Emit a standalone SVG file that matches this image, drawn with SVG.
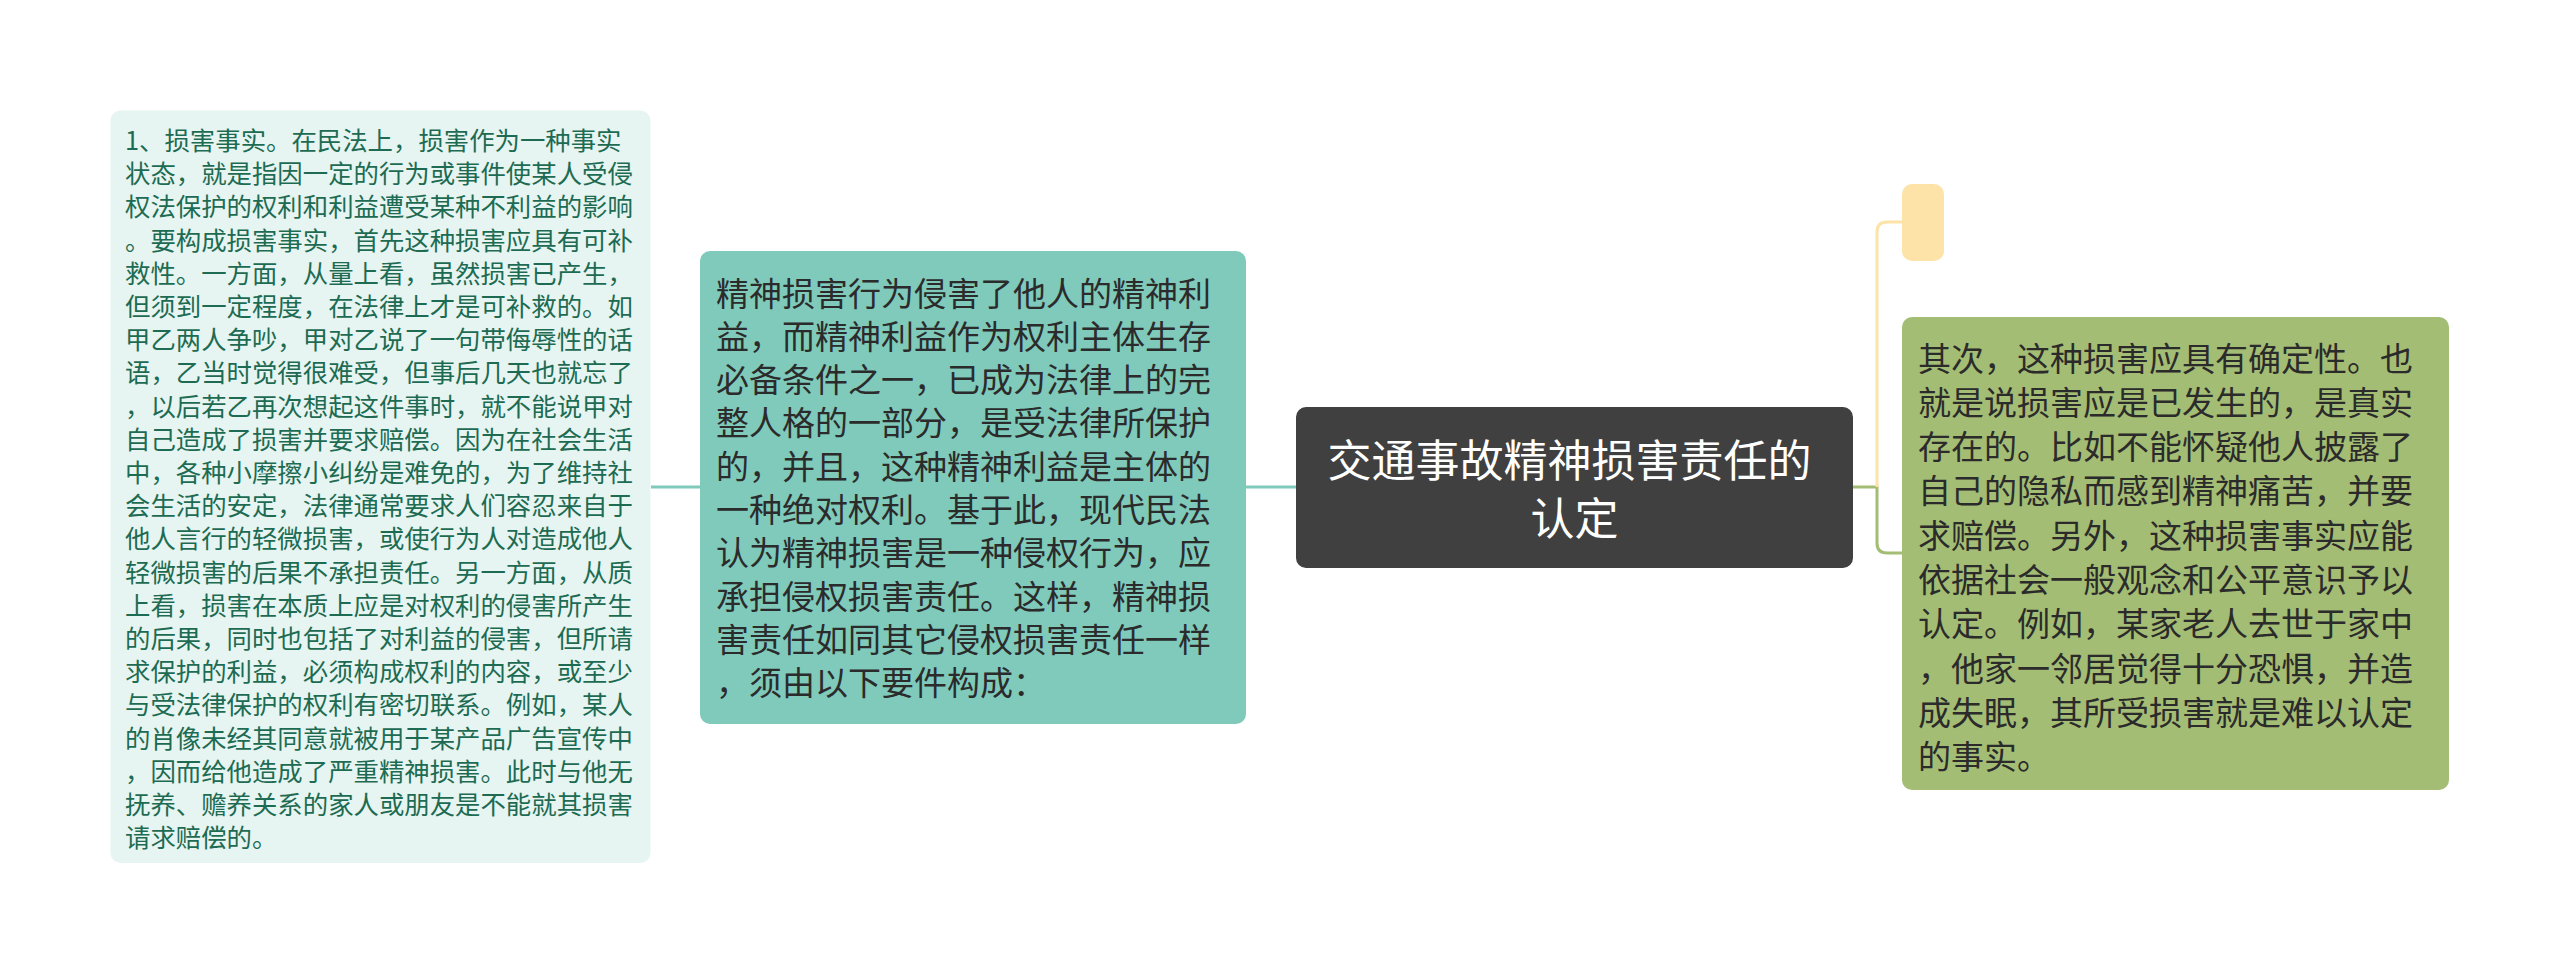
<svg xmlns="http://www.w3.org/2000/svg" width="2560" height="975" viewBox="0 0 2560 975">
<style>
.t{font-family:"Noto Sans CJK SC","Noto Sans",sans-serif;}
.l{font-size:25.4px;fill:#1d6b52;}
.m{font-size:33px;fill:#2b2b2b;}
.c{font-size:44px;fill:#ffffff;}
.conn{fill:none;stroke-width:3;}
</style>
<rect width="2560" height="975" fill="#ffffff"/>
<g id="connectors">
<path class="conn" stroke="#7fcabb" d="M651,487 H700"/>
<path class="conn" stroke="#7fcabb" d="M1246,487 H1296"/>
<path class="conn" stroke="#a4bd74" d="M1853,487 H1877 V543 Q1877,553 1887,553 H1902"/>
<path class="conn" stroke="#fde3a7" d="M1877,487 V232 Q1877,222 1887,222 H1902"/>
</g>
<g id="node-left">
<rect x="110.5" y="110.5" width="540" height="752.5" rx="10" fill="#e6f5f1"/>
<text class="t l" x="125" y="150">
<tspan x="125">1、损害事实。在民法上，损害作为一种事实</tspan>
<tspan x="125" dy="33.2">状态，就是指因一定的行为或事件使某人受侵</tspan>
<tspan x="125" dy="33.2">权法保护的权利和利益遭受某种不利益的影响</tspan>
<tspan x="125" dy="33.2">。要构成损害事实，首先这种损害应具有可补</tspan>
<tspan x="125" dy="33.2">救性。一方面，从量上看，虽然损害已产生，</tspan>
<tspan x="125" dy="33.2">但须到一定程度，在法律上才是可补救的。如</tspan>
<tspan x="125" dy="33.2">甲乙两人争吵，甲对乙说了一句带侮辱性的话</tspan>
<tspan x="125" dy="33.2">语，乙当时觉得很难受，但事后几天也就忘了</tspan>
<tspan x="125" dy="33.2">，以后若乙再次想起这件事时，就不能说甲对</tspan>
<tspan x="125" dy="33.2">自己造成了损害并要求赔偿。因为在社会生活</tspan>
<tspan x="125" dy="33.2">中，各种小摩擦小纠纷是难免的，为了维持社</tspan>
<tspan x="125" dy="33.2">会生活的安定，法律通常要求人们容忍来自于</tspan>
<tspan x="125" dy="33.2">他人言行的轻微损害，或使行为人对造成他人</tspan>
<tspan x="125" dy="33.2">轻微损害的后果不承担责任。另一方面，从质</tspan>
<tspan x="125" dy="33.2">上看，损害在本质上应是对权利的侵害所产生</tspan>
<tspan x="125" dy="33.2">的后果，同时也包括了对利益的侵害，但所请</tspan>
<tspan x="125" dy="33.2">求保护的利益，必须构成权利的内容，或至少</tspan>
<tspan x="125" dy="33.2">与受法律保护的权利有密切联系。例如，某人</tspan>
<tspan x="125" dy="33.2">的肖像未经其同意就被用于某产品广告宣传中</tspan>
<tspan x="125" dy="33.2">，因而给他造成了严重精神损害。此时与他无</tspan>
<tspan x="125" dy="33.2">抚养、赡养关系的家人或朋友是不能就其损害</tspan>
<tspan x="125" dy="33.2">请求赔偿的。</tspan>
</text>
</g>
<g id="node-middle">
<rect x="700" y="251" width="546" height="473" rx="10" fill="#7fcabb"/>
<text class="t m" x="716" y="305.5">
<tspan x="716">精神损害行为侵害了他人的精神利</tspan>
<tspan x="716" dy="43.3">益，而精神利益作为权利主体生存</tspan>
<tspan x="716" dy="43.3">必备条件之一，已成为法律上的完</tspan>
<tspan x="716" dy="43.3">整人格的一部分，是受法律所保护</tspan>
<tspan x="716" dy="43.3">的，并且，这种精神利益是主体的</tspan>
<tspan x="716" dy="43.3">一种绝对权利。基于此，现代民法</tspan>
<tspan x="716" dy="43.3">认为精神损害是一种侵权行为，应</tspan>
<tspan x="716" dy="43.3">承担侵权损害责任。这样，精神损</tspan>
<tspan x="716" dy="43.3">害责任如同其它侵权损害责任一样</tspan>
<tspan x="716" dy="43.3">，须由以下要件构成：</tspan>
</text>
</g>
<g id="node-center">
<rect x="1296" y="407" width="557" height="161" rx="10" fill="#404040"/>
<text class="t c" text-anchor="middle">
<tspan x="1574.5" y="477">交通事故精神损害责任的</tspan>
<tspan x="1574.5" y="535">认定</tspan>
</text>
</g>
<g id="node-yellow">
<rect x="1902" y="184" width="42" height="77" rx="10" fill="#fde3a7"/>
</g>
<g id="node-right">
<rect x="1902" y="317" width="547" height="473" rx="10" fill="#a4bd74"/>
<text class="t m" x="1918" y="370.5">
<tspan x="1918">其次，这种损害应具有确定性。也</tspan>
<tspan x="1918" dy="44.3">就是说损害应是已发生的，是真实</tspan>
<tspan x="1918" dy="44.3">存在的。比如不能怀疑他人披露了</tspan>
<tspan x="1918" dy="44.3">自己的隐私而感到精神痛苦，并要</tspan>
<tspan x="1918" dy="44.3">求赔偿。另外，这种损害事实应能</tspan>
<tspan x="1918" dy="44.3">依据社会一般观念和公平意识予以</tspan>
<tspan x="1918" dy="44.3">认定。例如，某家老人去世于家中</tspan>
<tspan x="1918" dy="44.3">，他家一邻居觉得十分恐惧，并造</tspan>
<tspan x="1918" dy="44.3">成失眠，其所受损害就是难以认定</tspan>
<tspan x="1918" dy="44.3">的事实。</tspan>
</text>
</g>
</svg>
